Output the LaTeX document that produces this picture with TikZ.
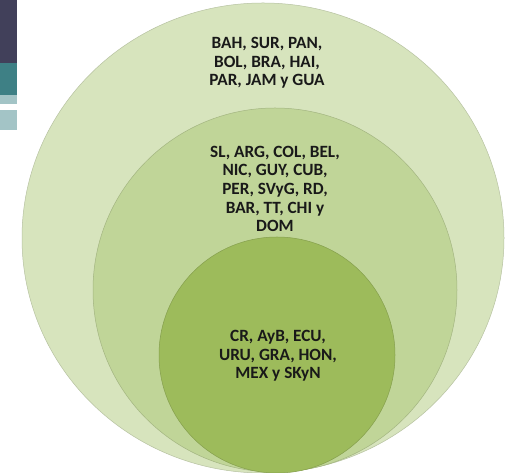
\documentclass[tikz,border=0pt]{standalone}
\usepackage{fontspec}
\setmainfont{Carlito}
\usetikzlibrary{shapes.geometric}
\definecolor{outerc}{HTML}{D7E4BD}
\definecolor{midc}{HTML}{C0D598}
\definecolor{innerc}{HTML}{9DBB5B}
\definecolor{darkbar}{HTML}{41405A}
\definecolor{tealbar}{HTML}{3E8085}
\definecolor{lightbar}{HTML}{A3C4C6}
\tikzset{
  ring/.style={ellipse, inner sep=0pt, draw=#1!85!black, line width=0.5pt, fill=#1},
  lbl/.style={align=center, font=\bfseries\fontsize{17.2}{18.6}\selectfont, text=black!90}
}
\begin{document}
\begin{tikzpicture}[x=1pt,y=1pt]
\useasboundingbox (0,0) rectangle (506,473);
\fill[white] (0,0) rectangle (506,473);
% top-left decoration
\fill[darkbar] (0,410) rectangle (17,473);
\fill[tealbar] (0,378) rectangle (17,410);
\fill[lightbar] (0,369) rectangle (17,378);
\fill[lightbar] (0,343) rectangle (17,363);
% circles
\node[ring=outerc, minimum width=482pt, minimum height=470pt] (outer) at (263,235) {};
\node[ring=midc, minimum width=364pt, minimum height=364pt] (mid) at (275,183) {};
\node[ring=innerc, minimum width=236pt, minimum height=236pt] (inner) at (277,118) {};
% texts
\node[lbl] (t1) at (267,410) {BAH, SUR, PAN,\\BOL, BRA, HAI,\\PAR, JAM y GUA};
\node[lbl] (t2) at (275,284) {SL, ARG, COL, BEL,\\NIC, GUY, CUB,\\PER, SVyG, RD,\\BAR, TT, CHI y\\DOM};
\node[lbl] (t3) at (278,117) {CR, AyB, ECU,\\URU, GRA, HON,\\MEX y SKyN};
\end{tikzpicture}
\end{document}
